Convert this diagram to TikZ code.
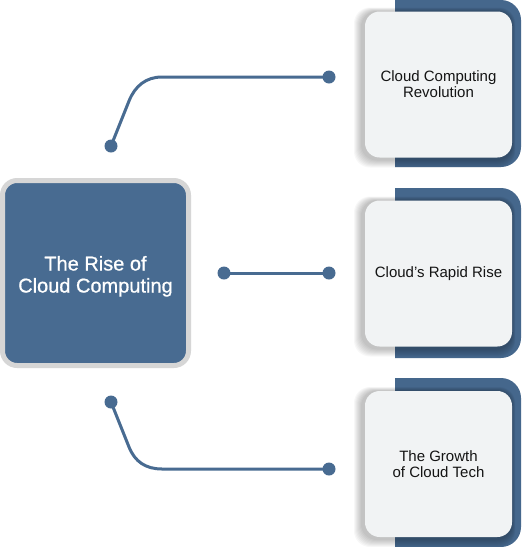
\documentclass[tikz,border=0pt]{standalone}
\usepackage{fontspec}
\setmainfont{Liberation Sans}
\newfontfamily\medfont[FakeBold=0.8]{Liberation Sans}
\begin{document}
\begin{tikzpicture}[x=0.75pt,y=-0.75pt,
  mainbox/.style={draw=bordergray,line width=3.75pt,fill=mainblue,rounded corners=11pt,
    minimum width=139.5pt,minimum height=138.75pt,inner sep=0pt},
  maintext/.style={text=white,align=center,font=\medfont\fontsize{15}{16.5}\selectfont,inner sep=0pt},
  card/.style={fill=cardfill,rounded corners=11pt,minimum width=110.25pt,minimum height=109.5pt,
    align=center,text=cardtext,font=\fontsize{11.25}{12}\selectfont,inner sep=0pt},
  dot/.style={circle,fill=mainblue,minimum size=9.75pt,inner sep=0pt},
  conn/.style={draw=mainblue,line width=2.25pt},
]
\definecolor{mainblue}{HTML}{486B91}
\definecolor{backblue}{HTML}{45678C}
\definecolor{bordergray}{HTML}{D6D6D6}
\definecolor{cardfill}{HTML}{F1F3F4}
\definecolor{cardtext}{HTML}{141414}
\useasboundingbox (0,0) rectangle (523,547);
\fill[white] (0,0) rectangle (523,547);

% back panels
\foreach \ya/\yb in {0/167, 188/358, 378/547}{
  \fill[backblue] (395,\ya) -- (501,\ya) arc[start angle=90,end angle=0,radius=15pt]
    -- (521,\yb-20) arc[start angle=0,end angle=-90,radius=15pt] -- (395,\yb) -- cycle;
}
% card shadows
\foreach \cy in {84.5,273.5,464}{
  \foreach \i in {1,...,8}{
    \fill[black,opacity=0.03,rounded corners=12pt]
      (365-\i-3,\cy-73-\i*0.5) rectangle (512+\i*0.4,\cy+73+\i+2);
  }
}
% main box
\node[mainbox] (main) at (95.5,273) {};
\node[maintext] (mtext) at ([yshift=-2.5pt]main.center) {The Rise of\\Cloud Computing};
% cards
\node[card] (c1) at (438.5,84.5) {Cloud Computing\\Revolution};
\node[card] (c2) at (438.5,273.5) {Cloud’s Rapid Rise};
\node[card] (c3) at (438.5,464) {The Growth\\of Cloud Tech};

% dots
\node[dot] (a1) at (111,146) {};
\node[dot] (b1) at (329,77) {};
\node[dot] (a2) at (224,273) {};
\node[dot] (b2) at (329,273) {};
\node[dot] (a3) at (111,402) {};
\node[dot] (b3) at (329,469) {};
\coordinate (k1) at (129,101);
\coordinate (h1) at (162,77);
\coordinate (k3) at (129,447);
\coordinate (h3) at (162,469);

\draw[conn] (a1.center) -- (k1) .. controls (135,86) and (146,77) .. (h1) -- (b1.center);
\draw[conn] (a2.center) -- (b2.center);
\draw[conn] (a3.center) -- (k3) .. controls (135,462) and (146,469) .. (h3) -- (b3.center);
\end{tikzpicture}
\end{document}
